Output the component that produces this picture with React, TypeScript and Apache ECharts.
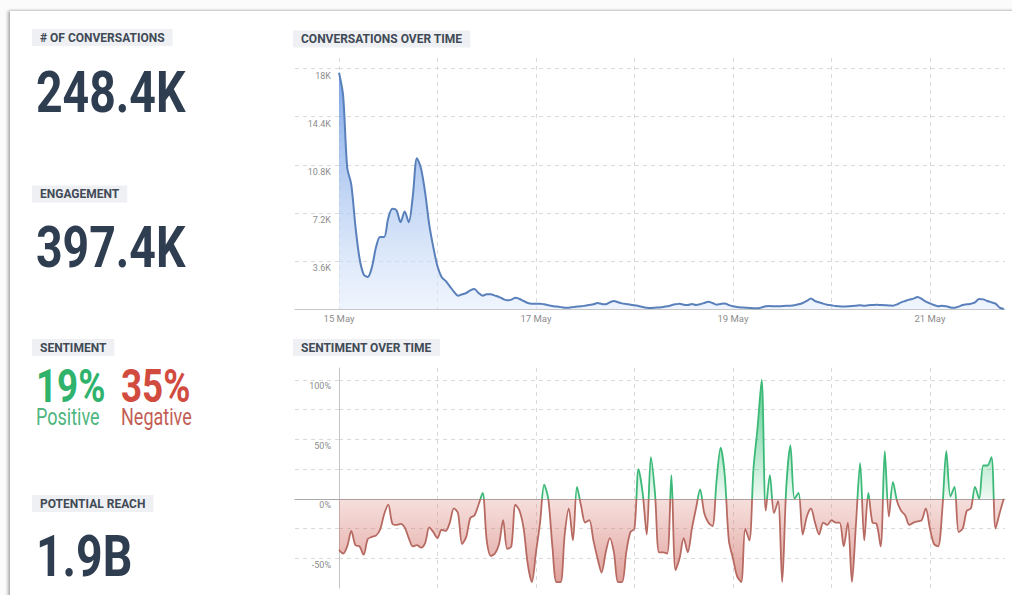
import React, { useEffect, useRef } from "react";
import * as echarts from "echarts";

// Hourly values starting 15 May 00:00 (index = hours since 15 May 00:00)
const CONVERSATIONS: number[] = [
  17700, 16000, 10600, 9300, 6200, 3800, 2600, 2400, 3100, 4600, 5400, 5400,
  6800, 7500, 7400, 6500, 7300, 6500, 8500, 11300, 10500, 8700, 6300, 4600,
  3200, 2400, 2100, 1700, 1300, 1000, 1100, 1200, 1400, 1500, 1200, 1000,
  1100, 1100, 1000, 900, 750, 650, 700, 850, 750, 600, 450, 400,
  400, 400, 350, 280, 220, 180, 140, 100, 100, 140, 180, 200,
  250, 300, 350, 450, 380, 350, 500, 600, 500, 420, 380, 320,
  280, 220, 150, 100, 80, 100, 120, 150, 200, 280, 350, 400,
  320, 300, 380, 300, 350, 450, 550, 450, 320, 380, 420, 300,
  200, 150, 120, 100, 80, 60, 50, 120, 200, 220, 200, 200,
  220, 240, 250, 280, 350, 450, 600, 780, 600, 500, 400, 320,
  280, 220, 200, 180, 200, 220, 250, 280, 250, 280, 300, 320,
  300, 280, 270, 250, 350, 500, 600, 700, 780, 900, 750, 550,
  420, 300, 200, 250, 200, 120, 100, 180, 300, 350, 400, 500,
  750, 720, 600, 500, 400, 100, 0,
];

const SENTIMENT: number[] = [
  -43, -46, -40, -27, -39, -40, -47, -34, -32, -31, -26, -13,
  -5, -21, -22, -21, -24, -33, -40, -39, -41, -37, -24, -28,
  -33, -26, -27, -20, -8, -12, -38, -32, -16, -14, -5, 5,
  -35, -48, -46, -38, -18, -42, -40, -5, -10, -25, -55, -70,
  -45, -20, 12, 0, -40, -70, -70, -30, -8, -35, 10, -6,
  -20, -18, -35, -50, -62, -45, -33, -45, -70, -70, -45, -28,
  -25, 25, 5, -30, 35, 5, -45, -45, -46, 20, -60, -50,
  -33, -45, -25, -8, 8, -12, -20, -23, 15, 43, 20, -35,
  -50, -65, -70, -25, -35, 25, 60, 100, -10, 20, -12, -2,
  -70, 10, 45, 0, 5, -30, -15, -8, -20, -30, -20, -22,
  -18, -20, -20, -40, -20, -70, -20, 30, -35, 5, -20, -21,
  -40, 40, -15, 14, -2, -10, -14, -22, -20, -19, -18, -8,
  -25, -38, -40, -10, 40, 2, 10, -28, -25, -10, -8, 10,
  0, 28, 28, 35, -25, -12, 0,
];

const HOURS_PER_DAY = 24;
const LAST_HOUR = 162.3;
const DATE_LABEL_EVERY = 48;
const CONV_MAX = 18800;
const CONV_STEP = 3600;
const SENT_MIN = -75;
const SENT_MAX = 110;
const SENT_STEP = 25;
const SENT_LABELS = [-50, 0, 50, 100];

const KPIS = [
  { label: "# OF CONVERSATIONS", value: "248.4K", labelY: 37.5, valueY: 92 },
  { label: "ENGAGEMENT", value: "397.4K", labelY: 194, valueY: 247.5 },
  { label: "POTENTIAL REACH", value: "1.9B", labelY: 503.5, valueY: 556 },
];
const SENTIMENT_KPI = { label: "SENTIMENT", positive: "19%", negative: "35%", positiveText: "Positive", negativeText: "Negative" };

const FONT = "Roboto, 'Noto Sans', sans-serif";
const GRID_COLOR = "#dadada";
const LABEL_COLOR = "#8c8c8c";

// layout (pixels)
const PLOT_LEFT = 295;
const AXIS_X = 339;
const PLOT_RIGHT = 1005;
const TOP_GRID = { top: 58, height: 251 };
const BOT_GRID = { top: 368, height: 220 };

function labelBox(text: string, x: number, y: number) {
  return {
    type: "text",
    x,
    y,
    style: {
      text,
      font: `bold 12px ${FONT}`,
      fill: "#414a56",
      backgroundColor: "#eef0f3",
      padding: [3, 8, 2, 8],
      align: "left",
      verticalAlign: "middle",
    },
  };
}

function bigText(text: string, x: number, y: number, size: number, color: string, weight: string, sx: number) {
  return {
    type: "text",
    x,
    y,
    scaleX: sx,
    style: {
      text,
      font: `${weight} ${size}px ${FONT}`,
      fill: color,
      align: "left",
      verticalAlign: "middle",
    },
  };
}

const dashed = { show: true, lineStyle: { color: GRID_COLOR, type: [4, 4], width: 1 }, showMinLine: true, showMaxLine: false };

export default function App() {
  const ref = useRef<HTMLDivElement>(null);

  useEffect(() => {
    if (!ref.current) return;
    const chart = echarts.init(ref.current, undefined, { renderer: "svg" });

    const graphics: any[] = [];
    KPIS.forEach((k) => {
      graphics.push(labelBox(k.label, 32, k.labelY));
      graphics.push(bigText(k.value, 36, k.valueY, 58, "#2e3d50", "bold", 0.8));
    });
    graphics.push(labelBox(SENTIMENT_KPI.label, 32, 347.5));
    graphics.push(bigText(SENTIMENT_KPI.positive, 36, 386, 46, "#2fb36c", "bold", 0.8));
    graphics.push(bigText(SENTIMENT_KPI.negative, 121, 386, 46, "#d24b3f", "bold", 0.8));
    graphics.push(bigText(SENTIMENT_KPI.positiveText, 36, 417, 24, "#4fb680", "normal", 0.75));
    graphics.push(bigText(SENTIMENT_KPI.negativeText, 121, 417, 24, "#c25e56", "normal", 0.75));
    graphics.push(labelBox("CONVERSATIONS OVER TIME", 293, 39));
    graphics.push(labelBox("SENTIMENT OVER TIME", 293, 347.5));

    const zeroY = BOT_GRID.top + (BOT_GRID.height * SENT_MAX) / (SENT_MAX - SENT_MIN);
    const zeroOffset = (zeroY - BOT_GRID.top) / BOT_GRID.height;

    const mainX = (gridIndex: number, showLabels: boolean, lineColor: string) => ({
      gridIndex,
      type: "value",
      min: 0,
      max: LAST_HOUR,
      interval: HOURS_PER_DAY,
      axisLine: { show: true, onZero: true, lineStyle: { color: lineColor, width: 1 } },
      axisTick: { show: false },
      axisLabel: {
        show: showLabels,
        formatter: (v: number) =>
          v % DATE_LABEL_EVERY === 0 ? `${15 + Math.round(v / HOURS_PER_DAY)} May` : "",
        color: LABEL_COLOR,
        fontSize: 9.5,
        fontFamily: FONT,
        margin: 4,
        verticalAlign: "top",
        showMaxLabel: false,
      },
      splitLine: dashed,
    });

    const stubX = (gridIndex: number, lineColor: string) => ({
      gridIndex,
      type: "value",
      min: 0,
      max: 1,
      axisLine: { show: true, onZero: true, lineStyle: { color: lineColor, width: 1 } },
      axisTick: { show: false },
      axisLabel: { show: false },
      splitLine: { show: false },
    });

    const convY = (gridIndex: number, showLabels: boolean) => ({
      gridIndex,
      type: "value",
      min: 0,
      max: CONV_MAX,
      interval: CONV_STEP,
      axisLine: { show: false },
      axisTick: { show: false },
      axisLabel: {
        show: showLabels,
        formatter: (v: number) => (v > 0 && v % CONV_STEP === 0 ? `${+(v / 1000).toFixed(1)}K` : ""),
        color: LABEL_COLOR,
        fontSize: 9,
        fontFamily: FONT,
        margin: 8,
        verticalAlign: "top",
        padding: [3, 0, 0, 0],
      },
      splitLine: dashed,
    });

    const sentY = (gridIndex: number, main: boolean) => ({
      gridIndex,
      type: "value",
      min: SENT_MIN,
      max: SENT_MAX,
      interval: SENT_STEP,
      axisLine: { show: main, onZero: true, lineStyle: { color: "#c4c4c4", width: 1 } },
      axisTick: { show: false },
      axisLabel: {
        show: main,
        formatter: (v: number) => (SENT_LABELS.includes(v) ? `${v}%` : ""),
        color: LABEL_COLOR,
        fontSize: 9,
        fontFamily: FONT,
        margin: 8,
        verticalAlign: "top",
        padding: [2, 0, 0, 0],
      },
      splitLine: { ...dashed, showMinLine: false },
    });

    chart.setOption({
      animation: false,
      textStyle: { fontFamily: FONT },
      graphic: graphics,
      grid: [
        { left: AXIS_X, top: TOP_GRID.top, width: PLOT_RIGHT - AXIS_X, height: TOP_GRID.height },
        { left: AXIS_X, top: BOT_GRID.top, width: PLOT_RIGHT - AXIS_X, height: BOT_GRID.height },
        { left: PLOT_LEFT, top: TOP_GRID.top, width: AXIS_X - PLOT_LEFT, height: TOP_GRID.height },
        { left: PLOT_LEFT, top: BOT_GRID.top, width: AXIS_X - PLOT_LEFT, height: BOT_GRID.height },
      ],
      xAxis: [
        mainX(0, true, "#c6c6c6"),
        mainX(1, false, "#a9a9a9"),
        stubX(2, "#c6c6c6"),
        stubX(3, "#a9a9a9"),
      ],
      yAxis: [convY(0, true), sentY(1, true), convY(2, false), sentY(3, false)],
      visualMap: [
        {
          type: "piecewise",
          show: false,
          seriesIndex: 1,
          dimension: 1,
          pieces: [
            { gt: 0, lte: 1000, color: "#3cb978" },
            { gt: -1000, lte: 0, color: "#b76a62" },
          ],
        },
      ],
      series: [
        {
          type: "line",
          xAxisIndex: 0,
          yAxisIndex: 0,
          data: CONVERSATIONS.map((v, i) => [i, v]),
          smooth: 0.3,
          showSymbol: false,
          lineStyle: { color: "#5a80bb", width: 2 },
          itemStyle: { color: "#5a80bb" },
          areaStyle: {
            color: new echarts.graphic.LinearGradient(0, 0, 0, 1, [
              { offset: 0, color: "rgba(108,155,228,0.88)" },
              { offset: 1, color: "rgba(226,236,252,0.55)" },
            ]),
            opacity: 1,
          },
        },
        {
          type: "line",
          xAxisIndex: 1,
          yAxisIndex: 1,
          data: SENTIMENT.map((v, i) => [i, v]),
          smooth: 0.3,
          showSymbol: false,
          lineStyle: { width: 1.8 },
          areaStyle: {
            color: new echarts.graphic.LinearGradient(
              0, BOT_GRID.top, 0, BOT_GRID.top + BOT_GRID.height,
              [
                { offset: 0, color: "rgba(40,190,110,0.85)" },
                { offset: zeroOffset - 0.001, color: "rgba(40,190,110,0.08)" },
                { offset: zeroOffset + 0.001, color: "rgba(215,120,110,0.24)" },
                { offset: 1, color: "rgba(200,90,80,0.6)" },
              ],
              true
            ),
            opacity: 1,
          },
        },
      ],
    });

    return () => chart.dispose();
  }, []);

  return (
    <div style={{ position: "fixed", left: 0, top: 0, width: 1012, height: 595, background: "#fbfbfb", overflow: "hidden" }}>
      <div
        style={{
          position: "absolute",
          left: 10,
          top: 11,
          width: 1020,
          height: 600,
          background: "#ffffff",
          boxShadow: "-2px 0 3px rgba(0,0,0,0.32), 0 -1px 2px rgba(0,0,0,0.08)",
        }}
      />
      <div ref={ref} style={{ position: "absolute", left: 0, top: 0, width: 1012, height: 595 }} />
    </div>
  );
}
